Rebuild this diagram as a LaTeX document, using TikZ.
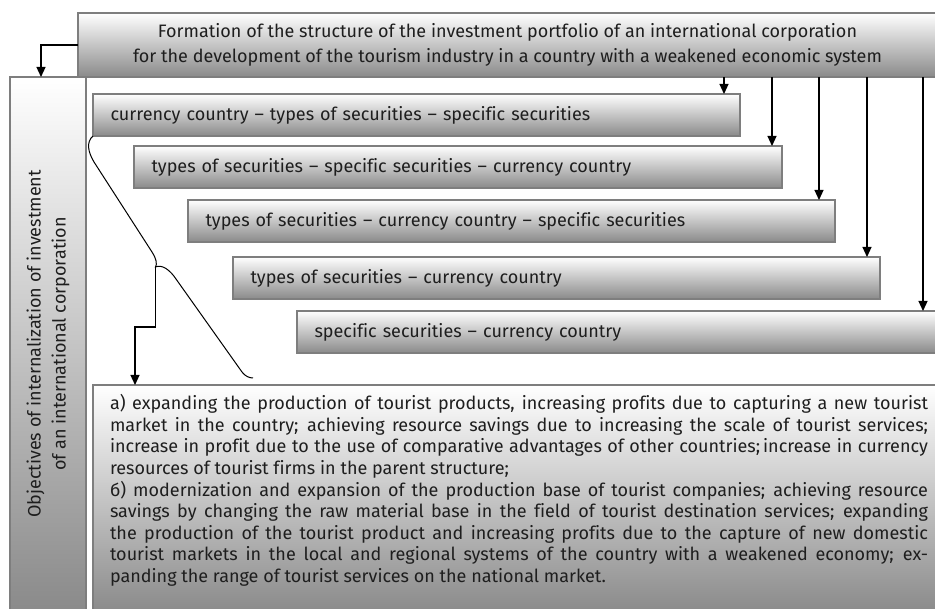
\documentclass[tikz,border=0pt]{standalone}
\usepackage{fontspec}
\setmainfont{Fira Sans}[Ligatures=NoCommon]
\usetikzlibrary{arrows.meta}
\definecolor{bordergray}{HTML}{7E7E7E}
\definecolor{shadegray}{HTML}{8A8A8A}
\definecolor{txt}{HTML}{1E1E1E}
\begin{document}
\begin{tikzpicture}[x=1pt,y=-1pt,
  panel/.style={draw=bordergray, line width=1.2pt, top color=white, bottom color=shadegray,
    outer sep=0pt, text=txt, font=\fontsize{18}{25}\selectfont},
  level/.style={panel, anchor=north west, minimum height=42pt, inner xsep=17.5pt, inner ysep=0pt,
    text width=#1, align=left},
  arr/.style={line width=1.2pt, -{Triangle[length=10pt,width=9pt]}},
  bracestyle/.style={line width=1pt}]
\useasboundingbox (0,0) rectangle (935,609);
\clip (0,0) rectangle (935,609);

% top box
\node[panel, anchor=north west, minimum width=859pt, minimum height=64pt, inner sep=0pt, align=center]
  (top) at (78,13) {Formation of the structure of the investment portfolio of an international corporation\\
  for the development of the tourism industry in a country with a weakened economic system};

% left box
\node[panel, anchor=north west, minimum width=76pt, minimum height=534pt, inner sep=0pt]
  (obj) at (10,77) {};
\node[rotate=90, align=center, text=txt, font=\fontsize{18}{25}\selectfont, inner sep=0pt]
  (objtext) at (48,344) {Objectives of internalization of investment\\of an international corporation};

% level boxes
\node[level=612pt] (b1) at (93,94) {currency country -- types of securities -- specific securities};
\node[level=613pt] (b2) at (134,146) {types of securities -- specific securities -- currency country};
\node[level=612pt] (b3) at (188,200) {types of securities -- currency country -- specific securities};
\node[level=612pt] (b4) at (233,257) {types of securities -- currency country};
\node[level=640pt] (b5) at (297,311) {specific securities -- currency country};

% bottom box
\node[panel, anchor=north west, minimum width=844pt, minimum height=227pt, inner xsep=17pt, inner ysep=0pt,
  text width=818pt, align=justify, font=\fontsize{18}{21.6}\selectfont] (bot) at (93,385)
  {a) expanding the production of tourist products, increasing profits due to capturing a new tourist\linebreak
  market in the country; achieving resource savings due to increasing the scale of tourist services;\linebreak
  increase in profit due to the use of comparative advantages of other countries;\,increase in currency\linebreak
  resources of tourist firms in the parent structure;\par
  б) modernization and expansion of the production base of tourist companies; achieving resource\linebreak
  savings by changing the raw material base in the field of tourist destination services; expanding\linebreak
  the production of the tourist product and increasing profits due to the capture of new domestic\linebreak
  tourist markets in the local and regional systems of the country with a weakened economy; ex-\linebreak
  panding the range of tourist services on the national market.\par\vspace{16pt}};

% arrows from top box
\draw[arr] (top.west) -| (obj.north -| 41,0);
\draw[arr] (top.south -| 724,0) -- (b1.north -| 724,0);
\draw[arr] (top.south -| 772,0) -- (b2.north -| 772,0);
\draw[arr] (top.south -| 819,0) -- (b3.north -| 819,0);
\draw[arr] (top.south -| 867,0) -- (b4.north -| 867,0);
\draw[arr] (top.south -| 923,0) -- (b5.north -| 923,0);

% brace
\coordinate (tip) at (155.5,267);
\coordinate (braceend) at (253,378);
\draw[bracestyle] (b1.south west) .. controls (86,142) and (88,152) .. (94,162)
  -- (152,252) .. controls (157,260) and (157,264) .. (tip)
  .. controls (162,264) and (170,270) .. (176,279)
  -- (242,372) .. controls (245,376) and (249,378) .. (braceend);
\draw[arr] (tip) -- (tip |- 0,327) -| (bot.north -| 135,0);
\end{tikzpicture}
\end{document}
